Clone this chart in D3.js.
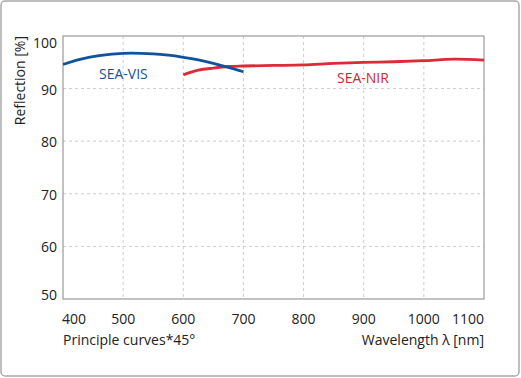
<!DOCTYPE html>
<meta charset="utf-8">
<style>
body { margin: 0; background: #fff; }
svg { display: block; font-family: "Open Sans", sans-serif; }
.grid line { stroke: #ccc; stroke-dasharray: 3,3; }
.tick-label { font-size: 14px; fill: #222; }
</style>
<body></body>
<script src="https://cdnjs.cloudflare.com/ajax/libs/d3/7.8.5/d3.min.js"></script>
<script>

// data
var visWave = [400, 430, 460, 500, 550, 575, 600, 625, 650, 675, 700];
var visRefl = [94.6, 95.6, 96.25, 96.7, 96.6, 96.35, 95.95, 95.45, 94.8, 94.05, 93.2];

var nirWave = [600, 625, 650, 675, 700, 750, 800, 850, 900, 950, 1000, 1050, 1100];
var nirRefl = [92.6, 93.5, 93.9, 94.2, 94.3, 94.4, 94.5, 94.8, 95.0, 95.1, 95.3, 95.6, 95.4];

var xTicks = [400, 500, 600, 700, 800, 900, 1000, 1100];
var yTicks = [50, 60, 70, 80, 90, 100];

var W = 521, H = 378;
// plot box (window.top is taken, so use a prefix)
var pLeft = 63, pRight = 484, pTop = 36, pBottom = 299;

var svg = d3.select("body").append("svg")
    .attr("width", W).attr("height", H);

svg.append("rect")
    .attr("x", 1).attr("y", 1).attr("width", W - 3).attr("height", H - 3)
    .attr("rx", 4)
    .attr("fill", "#fff").attr("stroke", "#aaa").attr("stroke-width", 1.5);

var x = d3.scaleLinear().domain([400, 1100]).range([pLeft, pRight]);
var y = d3.scaleLinear().domain([50, 100]).range([pBottom, pTop]);

// grid
var grid = svg.append("g").attr("class", "grid");
grid.selectAll(".vx")
    .data(xTicks.slice(1, -1))
    .enter().append("line")
      .attr("x1", d => x(d)).attr("x2", d => x(d))
      .attr("y1", pTop).attr("y2", pBottom);
grid.selectAll(".hy")
    .data(yTicks.slice(1, -1))
    .enter().append("line")
      .attr("x1", pLeft).attr("x2", pRight)
      .attr("y1", d => y(d)).attr("y2", d => y(d));

// frame
svg.append("rect")
    .attr("x", pLeft).attr("y", pTop)
    .attr("width", pRight - pLeft).attr("height", pBottom - pTop)
    .attr("fill", "none").attr("stroke", "#999").attr("stroke-width", 1.2);

// y tick labels
svg.selectAll(".ylab")
    .data(yTicks)
    .enter().append("text")
      .attr("class", "tick-label")
      .attr("x", pLeft - 6)
      .attr("y", d => y(d) + (d === 100 ? 12 : d === 50 ? 1 : 6))
      .attr("text-anchor", "end")
      .text(d => d);

// x tick labels
svg.selectAll(".xlab")
    .data(xTicks)
    .enter().append("text")
      .attr("class", "tick-label")
      .attr("x", d => d === 400 ? pLeft - 1 : d === 1100 ? pRight : x(d))
      .attr("y", 324)
      .attr("text-anchor", d => d === 400 ? "start" : d === 1100 ? "end" : "middle")
      .text(d => d);

svg.append("text")
    .attr("class", "tick-label")
    .attr("x", pLeft).attr("y", 345)
    .text("Principle curves*45°");

svg.append("text")
    .attr("class", "tick-label")
    .attr("x", pRight).attr("y", 345)
    .attr("text-anchor", "end")
    .text("Wavelength λ [nm]");

svg.append("text")
    .attr("class", "tick-label")
    .attr("transform", "translate(25," + pTop + ") rotate(-90)")
    .attr("text-anchor", "end")
    .text("Reflection [%]");

// curves
var line = d3.line()
    .x(d => x(d[0]))
    .y(d => y(d[1]))
    .curve(d3.curveCatmullRom.alpha(0.5));

svg.append("clipPath").attr("id", "plot")
  .append("rect")
    .attr("x", pLeft).attr("y", pTop - 2)
    .attr("width", pRight - pLeft).attr("height", pBottom - pTop + 2);

svg.append("path")
    .datum(d3.zip(nirWave, nirRefl))
    .attr("d", line)
    .attr("fill", "none")
    .attr("stroke", "#dc2a36")
    .attr("stroke-width", 2.8)
    .attr("clip-path", "url(#plot)");

svg.append("path")
    .datum(d3.zip(visWave, visRefl))
    .attr("d", line)
    .attr("fill", "none")
    .attr("stroke", "#0d539e")
    .attr("stroke-width", 2.8)
    .attr("clip-path", "url(#plot)");

svg.append("text")
    .attr("class", "tick-label")
    .attr("x", 99).attr("y", 78.5)
    .style("fill", "#1a4f95")
    .text("SEA-VIS");

svg.append("text")
    .attr("class", "tick-label")
    .attr("x", 337).attr("y", 83)
    .style("fill", "#d8262f")
    .text("SEA-NIR");

</script>
